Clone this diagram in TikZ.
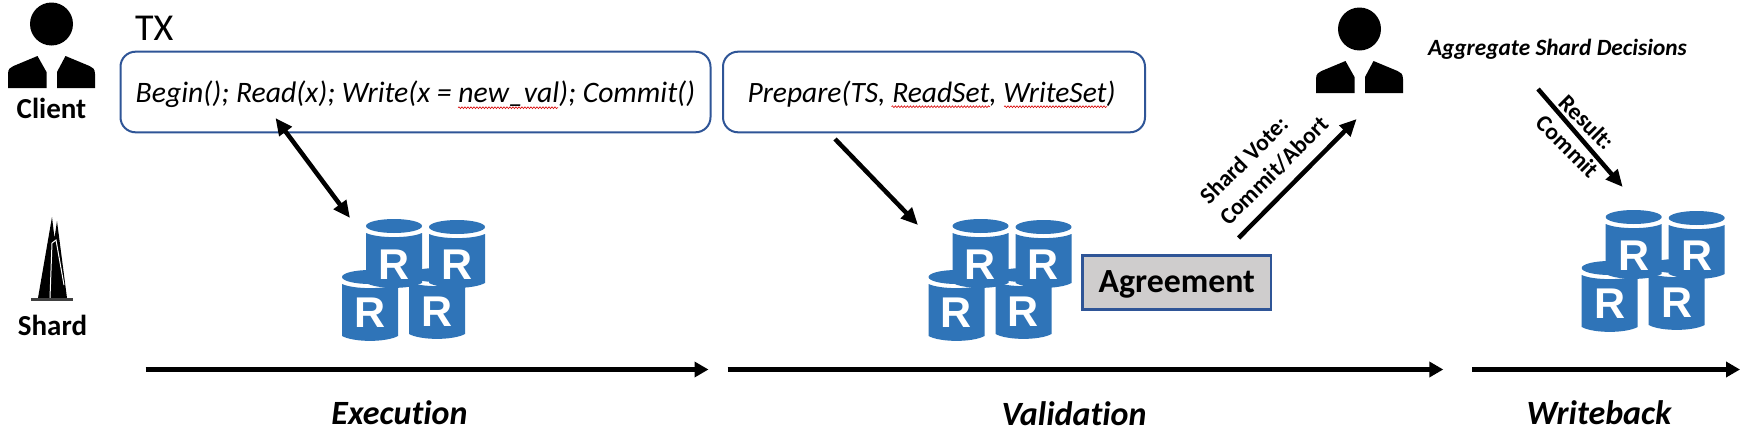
\documentclass[tikz,border=0pt]{standalone}
\usepackage{fontspec}
\setmainfont{Carlito}[Ligatures=NoCommon]
\newfontfamily\dbfont{Liberation Sans}[Scale=1]
\usetikzlibrary{arrows.meta,decorations.pathmorphing}
\definecolor{dbblue}{HTML}{2F74B8}
\definecolor{boxblue}{HTML}{2F5597}
\definecolor{agrey}{HTML}{CFCDCD}
\tikzset{
  fs/.style={font=\fontsize{#1}{#1}\selectfont},
  bi/.style={font=\fontsize{#1}{#1}\selectfont\bfseries\itshape},
  bd/.style={font=\fontsize{#1}{#1}\selectfont\bfseries},
  lbl/.style={inner sep=0pt,outer sep=0pt,text=black},
  txbox/.style={draw=boxblue,line width=2pt,rounded corners=15pt,fill=white,inner sep=0pt,
    minimum height=80.6pt,text height=23.5pt,text depth=2.6pt},
  agreebox/.style={draw=boxblue,line width=2.5pt,fill=agrey,inner sep=0pt,
    minimum width=188.5pt,minimum height=54pt,text height=26pt,text depth=5.6pt},
  flow/.style={line width=4.5pt,draw=black,-{Triangle[length=17pt,width=15pt]}},
  flowboth/.style={line width=4.5pt,draw=black,{Triangle[length=17pt,width=15pt]}-{Triangle[length=17pt,width=15pt]}},
  timeline/.style={line width=5pt,draw=black,-{Triangle[length=14pt,width=15pt]}},
  spell/.style={draw=red!85!black,line width=0.6pt,decorate,decoration={snake,segment length=3pt,amplitude=0.9pt}},
  dbr/.style={inner sep=0pt,text=white,font=\fontsize{43}{43}\selectfont\dbfont\bfseries},
}
% cylinder: left x, top y, height, node name, letter offset
\newcommand{\dbcyl}[5]{%
  \fill[dbblue] (#1+28,#2+7) ellipse [x radius=28pt,y radius=7pt];
  \fill[dbblue] (#1,#2+14) .. controls (#1+12,#2+19.5) and (#1+44,#2+19.5) .. (#1+56,#2+14)
     -- (#1+56,#2+#3-5) .. controls (#1+44,#2+#3+1.5) and (#1+12,#2+#3+1.5) .. (#1,#2+#3-5) -- cycle;
  \node[dbr] (#4) at (#1+28,#2+#5) {R};
}
% four replicas with left x and top y of the group
\newcommand{\dbgroup}[3]{%
  \begin{scope}[shift={(#2,#3)}]
    \dbcyl{0}{51}{71}{#1a}{43}
    \dbcyl{67}{49}{71}{#1b}{44}
    \dbcyl{24}{0}{69}{#1c}{46}
    \dbcyl{87}{1}{68}{#1d}{45}
  \end{scope}
}
% person figure, mirror axis x, top offset y
\newcommand{\person}[2]{%
  \begin{scope}[shift={(#1,#2)}]
    \fill[black] (0,24) ellipse [x radius=21.5pt,y radius=21.5pt];
    \fill[black] (-43.5,88) -- (-43.5,74) .. controls (-43.5,69) and (-41,67) .. (-38,66) -- (-14,56) -- (-5,72) -- (-5,88) -- cycle;
    \fill[black] (43.5,88) -- (43.5,74) .. controls (43.5,69) and (41,67) .. (38,66) -- (14,56) -- (5.5,72) -- (5.5,88) -- cycle;
  \end{scope}
}
\begin{document}
\begin{tikzpicture}[x=1pt,y=-1pt]
\useasboundingbox[fill=white] (0,0) rectangle (1743,431);

\person{51.5}{0}
\person{1359.5}{5}

% shard spire
\fill[black] (38,298) -- (52,217) -- (54.5,238) -- (57,221) -- (67,298) -- cycle;
\draw[white,line width=1pt] (50,298) -- (52,243) -- (56,240) -- (64,285);
\fill[black!75] (31,298) rectangle (73,301);

\node[lbl,bd=29,anchor=base] (client) at (51.5,118) {Client};
\node[lbl,bd=29,anchor=base] (shard) at (52.5,335) {Shard};
\node[lbl,fs=38,anchor=base west] (tx) at (135,40) {TX};

\node[txbox,minimum width=590pt,font=\fontsize{29.7}{29.7}\selectfont\itshape] (begin) at (415.5,92) {Begin(); Read(x); Write(x = new\_val); Commit()};
\node[txbox,minimum width=422pt,font=\fontsize{29.5}{29.5}\selectfont\itshape] (prepare) at (934,92) {Prepare(TS, ReadSet, WriteSet)\kern5pt};
\coordinate (u1a) at (458,107.7); \coordinate (u1b) at (558,107.7);
\coordinate (u2a) at (891.5,106.7); \coordinate (u2b) at (990,106.7);
\coordinate (u3a) at (1004,106.7); \coordinate (u3b) at (1107,106.7);
\draw[spell] (u1a) -- (u1b);
\draw[spell] (u2a) -- (u2b);
\draw[spell] (u3a) -- (u3b);

\dbgroup{ex}{342}{219}
\dbgroup{va}{928.5}{219}
\dbgroup{wb}{1581.7}{210}

\node[agreebox,font=\fontsize{33.8}{33.8}\selectfont\bfseries] (agree) at (1176.8,282.5) {Agreement};

\node[lbl,bi=23.3,anchor=base west] (agg) at (1428,55) {Aggregate Shard Decisions};

\coordinate (a1s) at (275.5,118); \coordinate (a1e) at (350,218);
\coordinate (a2s) at (835,139); \coordinate (a2e) at (918,225);
\coordinate (a3s) at (1238.6,238); \coordinate (a3e) at (1356.7,119);
\coordinate (a4s) at (1538,89); \coordinate (a4e) at (1622.7,187);
\draw[flowboth] (a1s) -- (a1e);
\draw[flow] (a2s) -- (a2e);
\draw[flow] (a3s) -- (a3e);
\draw[flow] (a4s) -- (a4e);

\node[lbl,bd=23.5,rotate=45] (vote1) at (1244,160) {Shard Vote:};
\node[lbl,bd=23.5,rotate=45] (vote2) at (1274,171) {Commit/Abort};
\node[lbl,bd=23.5,rotate=-45] (res1) at (1587,122) {Result:};
\node[lbl,bd=23.5,rotate=-45] (res2) at (1568,146.5) {Commit};

\coordinate (t1s) at (145.5,369.5); \coordinate (t1e) at (708.5,369.5);
\coordinate (t2s) at (727.7,369.5); \coordinate (t2e) at (1443.3,369.5);
\coordinate (t3s) at (1472,369.5); \coordinate (t3e) at (1740,369.5);
\draw[timeline] (t1s) -- (t1e);
\draw[timeline] (t2s) -- (t2e);
\draw[timeline] (t3s) -- (t3e);

\node[lbl,bi=34,anchor=base] (exec) at (399.5,424) {Execution};
\node[lbl,bi=34,anchor=base] (valid) at (1074,425) {Validation};
\node[lbl,bi=34,anchor=base] (wback) at (1599,424) {Writeback};
\end{tikzpicture}
\end{document}
